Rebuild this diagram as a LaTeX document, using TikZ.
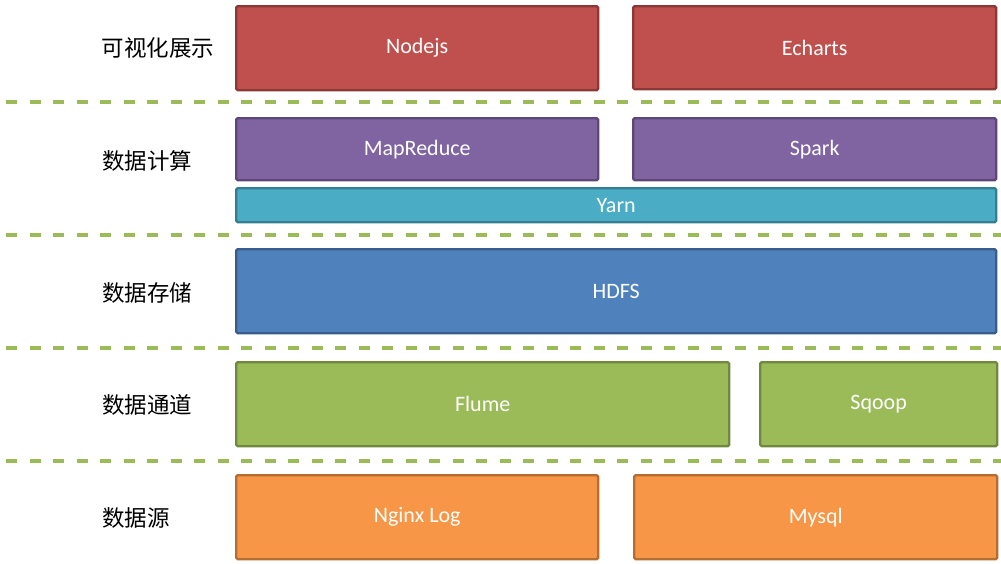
\documentclass[tikz,border=0pt]{standalone}
\usepackage{fontspec}
\setmainfont{Carlito}
\newfontfamily\cjk{Noto Sans CJK SC}
\definecolor{cred}{HTML}{C0504D}\definecolor{credb}{HTML}{8C3836}
\definecolor{cpur}{HTML}{8064A2}\definecolor{cpurb}{HTML}{5C4776}
\definecolor{cteal}{HTML}{4BACC6}\definecolor{ctealb}{HTML}{357D91}
\definecolor{cblue}{HTML}{4F81BD}\definecolor{cblueb}{HTML}{385D8A}
\definecolor{cgrn}{HTML}{9BBB59}\definecolor{cgrnb}{HTML}{71893F}
\definecolor{corg}{HTML}{F79646}\definecolor{corgb}{HTML}{B66D31}
\tikzset{
  box/.style={draw, line width=2.4pt, rounded corners=1.5pt, anchor=north west, inner sep=0pt,
    text=white, font=\fontsize{22}{26}\selectfont},
  layer/.style={font=\cjk\fontsize{22.5}{26}\selectfont, text=black, inner sep=0pt},
  sep/.style={draw=cgrn, line width=4pt, dash pattern=on 11pt off 12.5pt},
}
\begin{document}
\begin{tikzpicture}[x=1pt,y=-1pt]
\useasboundingbox (0,0) rectangle (1001,563);
% layer labels
\node[layer] (l1) at (158,48) {可视化展示};
\node[layer] (l2) at (147,161) {数据计算};
\node[layer] (l3) at (147,293) {数据存储};
\node[layer] (l4) at (147,405) {数据通道};
\node[layer] (l5) at (136,518) {数据源};
% separators
\draw[sep] (6,102) -- (1001,102);
\draw[sep] (6,235) -- (1001,235);
\draw[sep] (6,348) -- (1001,348);
\draw[sep] (6,461) -- (1001,461);
% row 1
\node[box, fill=cred, draw=credb, minimum width=362pt, minimum height=84pt] (nodejs) at (235,5) {Nodejs};
\node[box, fill=cred, draw=credb, minimum width=363pt, minimum height=83pt] (echarts) at (632,5) {Echarts};
% row 2
\node[box, fill=cpur, draw=cpurb, minimum width=362pt, minimum height=62pt] (mapreduce) at (235,117) {MapReduce};
\node[box, fill=cpur, draw=cpurb, minimum width=363pt, minimum height=62pt] (spark) at (632,117) {Spark};
\node[box, fill=cteal, draw=ctealb, minimum width=760pt, minimum height=34pt] (yarn) at (235,187) {Yarn};
% row 3
\node[box, fill=cblue, draw=cblueb, minimum width=760pt, minimum height=84pt] (hdfs) at (235,248) {HDFS};
% row 4
\node[box, fill=cgrn, draw=cgrnb, minimum width=493pt, minimum height=84pt] (flume) at (235,361) {Flume};
\node[box, fill=cgrn, draw=cgrnb, minimum width=237pt, minimum height=84pt] (sqoop) at (759,361) {Sqoop};
% row 5
\node[box, fill=corg, draw=corgb, minimum width=362pt, minimum height=84pt] (nginx) at (235,474) {Nginx Log};
\node[box, fill=corg, draw=corgb, minimum width=363pt, minimum height=84pt] (mysql) at (633,474) {Mysql};
\end{tikzpicture}
\end{document}
